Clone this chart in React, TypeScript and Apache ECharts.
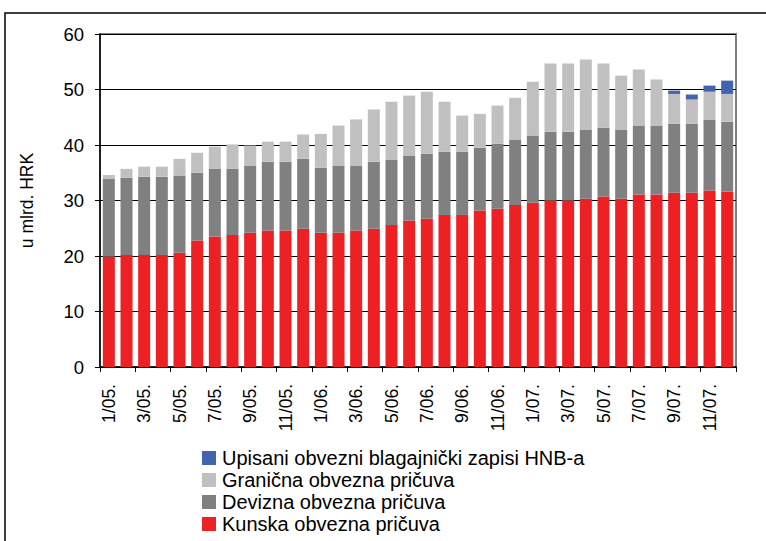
import React, { useEffect, useRef } from "react";
import * as echarts from "echarts";

const months = ["1/05.", "2/05.", "3/05.", "4/05.", "5/05.", "6/05.", "7/05.", "8/05.", "9/05.", "10/05.", "11/05.", "12/05.",
  "1/06.", "2/06.", "3/06.", "4/06.", "5/06.", "6/06.", "7/06.", "8/06.", "9/06.", "10/06.", "11/06.", "12/06.",
  "1/07.", "2/07.", "3/07.", "4/07.", "5/07.", "6/07.", "7/07.", "8/07.", "9/07.", "10/07.", "11/07.", "12/07."];

const kunska = [19.9, 20.2, 20.2, 20.2, 20.6, 22.8, 23.5, 23.8, 24.2, 24.6, 24.6, 24.9,
  24.2, 24.2, 24.6, 24.9, 25.6, 26.4, 26.7, 27.4, 27.4, 28.2, 28.5, 29.2,
  29.6, 30.0, 30.0, 30.3, 30.7, 30.3, 31.1, 31.1, 31.4, 31.4, 31.8, 31.6];

const devizna = [14.0, 13.9, 14.1, 14.1, 13.9, 12.2, 12.2, 11.9, 12.1, 12.4, 12.4, 12.6,
  11.7, 12.1, 11.7, 12.1, 11.8, 11.7, 11.7, 11.4, 11.4, 11.3, 11.7, 11.8,
  12.1, 12.4, 12.4, 12.5, 12.4, 12.5, 12.4, 12.4, 12.4, 12.4, 12.8, 12.6];

const granicna = [0.7, 1.6, 1.8, 1.8, 3.0, 3.6, 4.0, 4.4, 3.6, 3.6, 3.6, 4.4,
  6.1, 7.2, 8.3, 9.4, 10.4, 10.8, 11.2, 9.0, 6.5, 6.1, 6.9, 7.5,
  9.7, 12.3, 12.3, 12.6, 11.6, 9.7, 10.1, 8.3, 5.4, 4.4, 5.0, 5.0];

const zapisi = [0, 0, 0, 0, 0, 0, 0, 0, 0, 0, 0, 0,
  0, 0, 0, 0, 0, 0, 0, 0, 0, 0, 0, 0,
  0, 0, 0, 0, 0, 0, 0, 0, 0.6, 0.9, 1.1, 2.4];

const seriesNames = [
  "Kunska obvezna pričuva",
  "Devizna obvezna pričuva",
  "Granična obvezna pričuva",
  "Upisani obvezni blagajnički zapisi HNB-a",
];

const FONT = "Arial, 'Liberation Sans', sans-serif";

export default function App() {
  const ref = useRef<HTMLDivElement>(null);
  useEffect(() => {
    if (!ref.current) return;
    const chart = echarts.init(ref.current, null, { renderer: "svg" });
    const colors = ["#ED2024", "#808080", "#C0C0C0", "#4263B0"];
    const datas = [kunska, devizna, granicna, zapisi];
    chart.setOption({
      animation: false,
      backgroundColor: "#fff",
      textStyle: { fontFamily: FONT },
      graphic: [
        {
          type: "rect",
          shape: { x: 5, y: 13, width: 800, height: 600 },
          style: { fill: "none", stroke: "#000", lineWidth: 1.5 },
          silent: true,
        },
      ],
      grid: {
        left: 100, right: 30, top: 34, bottom: 174,
        show: true, borderColor: "#808080", borderWidth: 2, backgroundColor: "transparent",
      },
      legend: {
        orient: "vertical",
        left: 202,
        top: 448,
        padding: 0,
        height: 100,
        itemWidth: 14,
        itemHeight: 14,
        itemGap: 2,
        icon: "rect",
        data: [seriesNames[3], seriesNames[2], seriesNames[1], seriesNames[0]],
        textStyle: { fontSize: 20, color: "#000", fontFamily: FONT, lineHeight: 20, padding: [0, 0, 0, 1] },
      },
      xAxis: {
        type: "category",
        data: months,
        boundaryGap: true,
        axisLine: { lineStyle: { color: "#000", width: 1.5 } },
        axisTick: { show: true, interval: 1, length: 5, lineStyle: { color: "#000" } },
        axisLabel: {
          interval: 1,
          rotate: 90,
          fontSize: 17.5,
          color: "#000",
          margin: 17,
          fontFamily: FONT,
        },
      },
      yAxis: {
        type: "value",
        min: 0,
        max: 60,
        interval: 10,
        name: "u mlrd. HRK",
        nameLocation: "middle",
        nameRotate: 90,
        nameGap: 64,
        nameTextStyle: { fontSize: 17.5, color: "#000", fontFamily: FONT },
        axisLine: { show: true, lineStyle: { color: "#000", width: 1.5 } },
        axisTick: { show: true, length: 5, lineStyle: { color: "#000" } },
        axisLabel: { fontSize: 18.5, color: "#000", margin: 16, fontFamily: FONT },
        splitLine: { show: true, lineStyle: { color: "#000", width: 1 } },
      },
      series: datas.map((d, i) => ({
        name: seriesNames[i],
        type: "bar",
        stack: "total",
        data: d,
        barWidth: 12,
        itemStyle: { color: colors[i] },
      })),
    });
    return () => chart.dispose();
  }, []);
  return (
    <div
      ref={ref}
      style={{ position: "absolute", left: 0, top: 0, width: 766, height: 541, background: "#fff" }}
    />
  );
}
